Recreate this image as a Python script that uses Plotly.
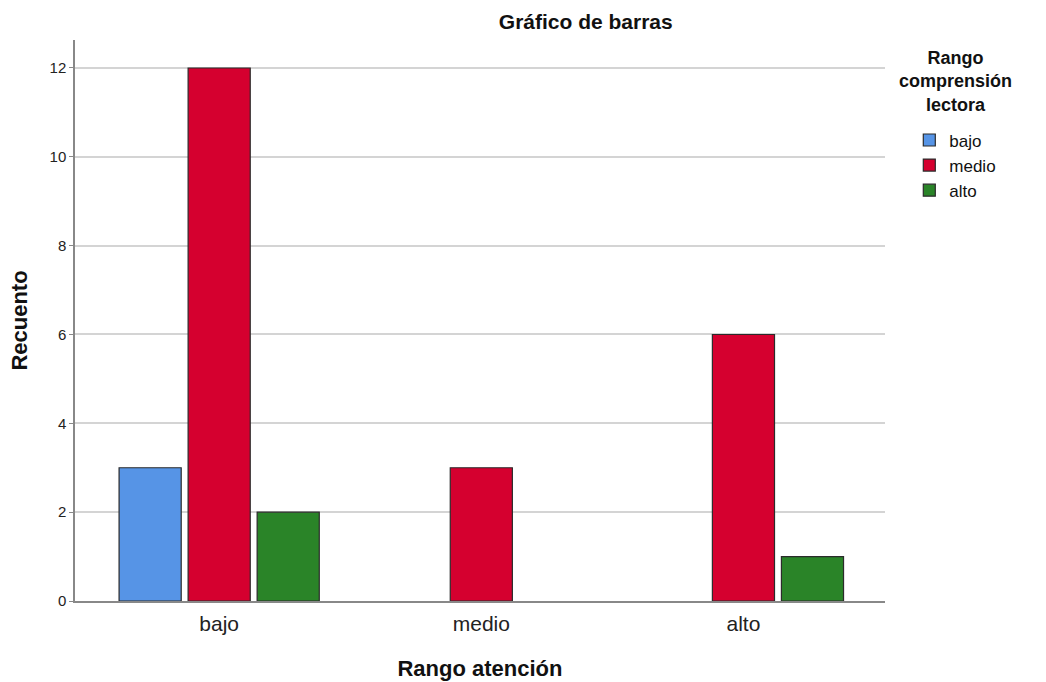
import plotly.graph_objects as go

# Categories on the x axis (Rango atención) and series (Rango comprensión lectora)
categories = ["bajo", "medio", "alto"]
series_names = ["bajo", "medio", "alto"]
counts_bajo = [3, 0, 0]
counts_medio = [12, 3, 6]
counts_alto = [2, 0, 1]
y_ticks = [0, 2, 4, 6, 8, 10, 12]

colors = ["#5694E6", "#D5002F", "#2A8428"]
series_values = [counts_bajo, counts_medio, counts_alto]

FONT = "Liberation Sans, Arial, sans-serif"

fig = go.Figure()
for name, vals, col in zip(series_names, series_values, colors):
    fig.add_trace(go.Bar(
        x=categories,
        y=[v if v else None for v in vals],
        name=name,
        marker=dict(color=col, line=dict(color="#2b2b2b", width=1.2)),
    ))

fig.update_layout(
    width=1046, height=682,
    paper_bgcolor="white", plot_bgcolor="white",
    barmode="group", bargap=0.21, bargroupgap=0.10,
    margin=dict(l=75, r=161, t=40, b=81, autoexpand=False),
    font=dict(family=FONT, color="#111"),
    title=dict(text="<b>Gráfico de barras</b>", x=0.560, xanchor="center", xref="container",
               y=0.968, yanchor="middle", font=dict(size=21, family=FONT, color="#111")),
    legend=dict(
        x=1.03, xanchor="left", y=0.853, yanchor="top",
        font=dict(size=17, family=FONT, color="#111"),
        itemwidth=30, tracegroupgap=0,
    ),
    showlegend=True,
    annotations=[dict(
        text="<b>Rango<br>comprensión<br>lectora</b>",
        xref="paper", yref="paper", x=1.087, y=0.99,
        xanchor="center", yanchor="top", align="center", showarrow=False,
        font=dict(size=18, family=FONT, color="#111"),
    )],
)

fig.update_xaxes(
    range=[-0.55, 2.54],
    showline=True, linecolor="#888", linewidth=1.5,
    ticks="", ticklabelstandoff=3,
    tickfont=dict(size=21, family=FONT, color="#222"),
    title=dict(text="<b>Rango atención</b>", font=dict(size=22, family=FONT, color="#111"), standoff=27),
    showgrid=False,
)
fig.update_yaxes(
    range=[0, 12.63],
    tickvals=y_ticks,
    showline=True, linecolor="#888", linewidth=1.5,
    ticks="outside", ticklen=4, tickcolor="#888",
    tickfont=dict(size=15, family=FONT, color="#222"),
    showgrid=True, gridcolor="#d4d4d4", gridwidth=1.5,
    zeroline=False,
    title=dict(text="<b>Recuento</b>", font=dict(size=22, family=FONT, color="#111"), standoff=16),
)

fig.write_html("out.html")
